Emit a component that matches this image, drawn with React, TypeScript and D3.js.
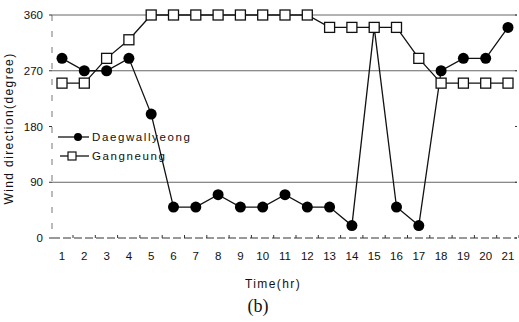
import React from "react";
import { scaleLinear, line } from "d3";

const hours = [1, 2, 3, 4, 5, 6, 7, 8, 9, 10, 11, 12, 13, 14, 15, 16, 17, 18, 19, 20, 21];
const daegwallyeong = [290, 270, 270, 290, 200, 50, 50, 70, 50, 50, 70, 50, 50, 20, 340, 50, 20, 270, 290, 290, 340];
const gangneung = [250, 250, 290, 320, 360, 360, 360, 360, 360, 360, 360, 360, 340, 340, 340, 340, 290, 250, 250, 250, 250];
const yTicks = [0, 90, 180, 270, 360];
const gridValues = [90, 270, 360];

const W = 519;
const H = 322;
const left = 52;
const right = 517;
const top = 15;
const bottom = 238;

const App = () => {
    const x = scaleLinear().domain([1, 21]).range([62, 508]);
    const y = scaleLinear().domain([0, 360]).range([bottom, top]);
    const path = line<number>()
        .x((_, i) => x(hours[i]))
        .y((d) => y(d));
    const font = "'Liberation Sans', Arial, sans-serif";

    return (
        <svg
            width={W}
            height={H}
            style={{ position: "absolute", left: 0, top: 0, background: "#fff" }}
            fontFamily={font}
        >
            {/* grid lines */}
            {gridValues.map((v) => (
                <line key={v} x1={left} x2={right} y1={y(v)} y2={y(v)} stroke="#666" strokeWidth={1} />
            ))}
            {/* axes */}
            <line x1={left} x2={right} y1={bottom} y2={bottom} stroke="#333" strokeWidth={1} strokeDasharray="8 3" />
            <line x1={left} x2={left} y1={top} y2={bottom} stroke="#777" strokeWidth={1} strokeDasharray="6 10" />
            {yTicks.map((v) => (
                <g key={v}>
                    <line x1={left - 3} x2={left} y1={y(v)} y2={y(v)} stroke="#333" />
                    <line x1={right - 2} x2={right} y1={y(v)} y2={y(v)} stroke="#333" />
                    <text x={left - 9} y={y(v) + 4} textAnchor="end" fontSize={11.5} fill="#111">
                        {v}
                    </text>
                </g>
            ))}
            {hours.map((h) => (
                <g key={h}>
                    <line x1={x(h) + 11} x2={x(h) + 11} y1={bottom - 3} y2={bottom} stroke="#333" />
                    <text x={x(h)} y={260} textAnchor="middle" fontSize={11.5} fill="#111">
                        {h}
                    </text>
                </g>
            ))}
            {/* series */}
            <path d={path(daegwallyeong) ?? ""} fill="none" stroke="#111" strokeWidth={1.3} />
            <path d={path(gangneung) ?? ""} fill="none" stroke="#111" strokeWidth={1.3} />
            {daegwallyeong.map((v, i) => (
                <circle key={"d" + i} cx={x(hours[i])} cy={y(v)} r={5.5} fill="#000" />
            ))}
            {gangneung.map((v, i) => (
                <rect
                    key={"g" + i}
                    x={x(hours[i]) - 5}
                    y={y(v) - 5}
                    width={10}
                    height={10}
                    fill="#fff"
                    stroke="#111"
                    strokeWidth={1.3}
                />
            ))}
            {/* legend */}
            <line x1={58} x2={89} y1={137} y2={137} stroke="#111" strokeWidth={1.3} />
            <circle cx={78} cy={137} r={4} fill="#000" />
            <text x={92} y={141} fontSize={11.5} letterSpacing={1.6} fill="#111">
                Daegwallyeong
            </text>
            <line x1={60} x2={89} y1={156} y2={156} stroke="#111" strokeWidth={1.3} />
            <rect x={68} y={152} width={8} height={8} fill="#fff" stroke="#111" strokeWidth={1.2} />
            <text x={92} y={160} fontSize={11.5} letterSpacing={1.6} fill="#111">
                Gangneung
            </text>
            {/* titles */}
            <text
                transform={`translate(13,${(top + bottom) / 2 + 2}) rotate(-90)`}
                textAnchor="middle"
                fontSize={12}
                letterSpacing={1.4}
                fill="#111"
            >
                Wind direction(degree)
            </text>
            <text x={273} y={288} textAnchor="middle" fontSize={12} letterSpacing={1.4} fill="#111">
                Time(hr)
            </text>
            <text x={258} y={312} textAnchor="middle" fontSize={18} fontFamily="'Liberation Serif', 'Times New Roman', serif" fill="#111">
                (b)
            </text>
        </svg>
    );
};

export default App;
